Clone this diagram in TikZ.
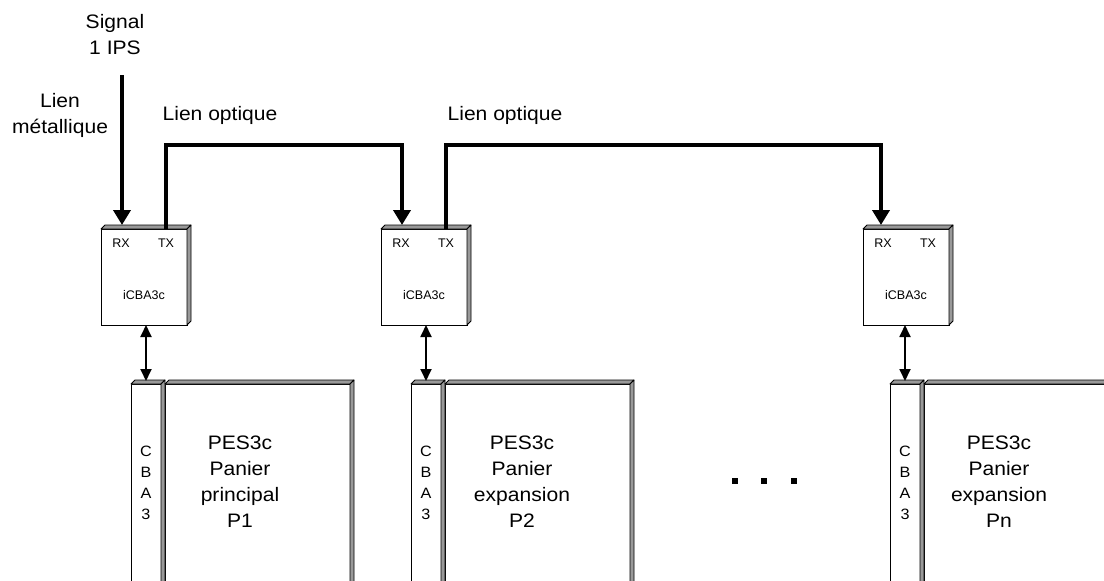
\documentclass[tikz,border=0pt]{standalone}
\usepackage{fontspec}
\setmainfont{Liberation Sans}
\newfontfamily\widefont{Liberation Sans}[FakeStretch=1.08]
\usetikzlibrary{arrows.meta}

\newcommand\bevelit[1]{%
  \filldraw[bevel] (#1.north west) -- ++(4,-4) -- ([shift={(4,-4)}]#1.north east) -- (#1.north east) -- cycle;
  \filldraw[bevel] (#1.north east) -- ++(4,-4) -- ([shift={(4,-4)}]#1.south east) -- (#1.south east) -- cycle;
}

\begin{document}
\begin{tikzpicture}[x=1pt,y=-1pt,
  lbl/.style={font=\widefont\fontsize{19.5}{26}\selectfont, align=center, inner sep=0},
  small/.style={font=\fontsize{12.5}{14}\selectfont, inner sep=0},
  strip/.style={font=\widefont\fontsize{15}{21}\selectfont, align=center, inner sep=0},
  face/.style={draw, fill=white, line width=0.8pt, inner sep=0, outer sep=0},
  boxface/.style={face, minimum width=86pt, minimum height=96pt},
  stripface/.style={face, minimum width=30pt, minimum height=206pt},
  mainface/.style={face, minimum width=185pt, minimum height=206pt},
  bevel/.style={draw=black, fill=black!40, line width=0.8pt, line join=round},
  link/.style={line width=4.2pt, -{Triangle[width=17pt,length=15pt]}},
  bus/.style={line width=1.8pt, {Triangle[width=11pt,length=12pt]}-{Triangle[width=11pt,length=12pt]}},
  dotsq/.style={fill=black, minimum size=6pt, inner sep=0}
]
\useasboundingbox (0,0) rectangle (1104,581);
\clip (0,0) rectangle (1104,581);
\fill[white] (0,0) rectangle (1104,581);

% iCBA3c boxes
\node[boxface] (b1) at (144,277) {};
\node[boxface] (b2) at (424,277) {};
\node[boxface] (b3) at (906,277) {};
\bevelit{b1}\bevelit{b2}\bevelit{b3}
\foreach \b in {b1,b2,b3}{
  \node[small] (\b rxl) at ([shift={(20,14)}]\b.north west) {RX};
  \node[small] (\b txl) at ([shift={(65,14)}]\b.north west) {TX};
  \node[small] (\b name) at ([shift={(0,18)}]\b.center) {iCBA3c};
}

% panels
\node[stripface] (s1) at (146,487) {};
\node[mainface] (m1) at (257.5,487) {};
\node[stripface] (s2) at (426,487) {};
\node[mainface] (m2) at (537.5,487) {};
\node[stripface] (s3) at (905,487) {};
\node[mainface] (m3) at (1016.5,487) {};
\bevelit{s1}\bevelit{m1}\bevelit{s2}\bevelit{m2}\bevelit{s3}\bevelit{m3}

\node[strip] (s1t) at (146,483) {C\\B\\A\\3};
\node[strip] (s2t) at (426,483) {C\\B\\A\\3};
\node[strip] (s3t) at (905,483) {C\\B\\A\\3};
\node[lbl] (m1t) at (240,482) {PES3c\\Panier\\principal\\P1};
\node[lbl] (m2t) at (522,482) {PES3c\\Panier\\expansion\\P2};
\node[lbl] (m3t) at (999,482) {PES3c\\Panier\\expansion\\Pn};

% labels
\node[lbl] (sig) at (115,35) {Signal\\1 IPS};
\node[lbl] (met) at (60,115) {Lien\\métallique};
\node[lbl] (opt1) at (220,115) {Lien optique};
\node[lbl] (opt2) at (505,115) {Lien optique};

% connector anchors
\coordinate (sigstart) at (122,75);
\coordinate (b1rx) at ([shift={(21,-4)}]b1.north west);
\coordinate (b2rx) at ([shift={(21,-4)}]b2.north west);
\coordinate (b3rx) at ([shift={(18,-4)}]b3.north west);
\coordinate (b1tx) at ([shift={(65,0)}]b1.north west);
\coordinate (b2tx) at ([shift={(65,0)}]b2.north west);

\draw[link] (sigstart) -- (b1rx);
\draw[link] (b1tx) -- ++(0,-84) -| (b2rx);
\draw[link] (b2tx) -- ++(0,-84) -| (b3rx);

\draw[bus] (s1.north |- b1.south) -- ([shift={(0,-3)}]s1.north);
\draw[bus] (s2.north |- b2.south) -- ([shift={(0,-3)}]s2.north);
\draw[bus] (s3.north |- b3.south) -- ([shift={(0,-3)}]s3.north);

% dots
\node[dotsq] (d1) at (735,481) {};
\node[dotsq] (d2) at (764,481) {};
\node[dotsq] (d3) at (794,481) {};
\end{tikzpicture}
\end{document}
